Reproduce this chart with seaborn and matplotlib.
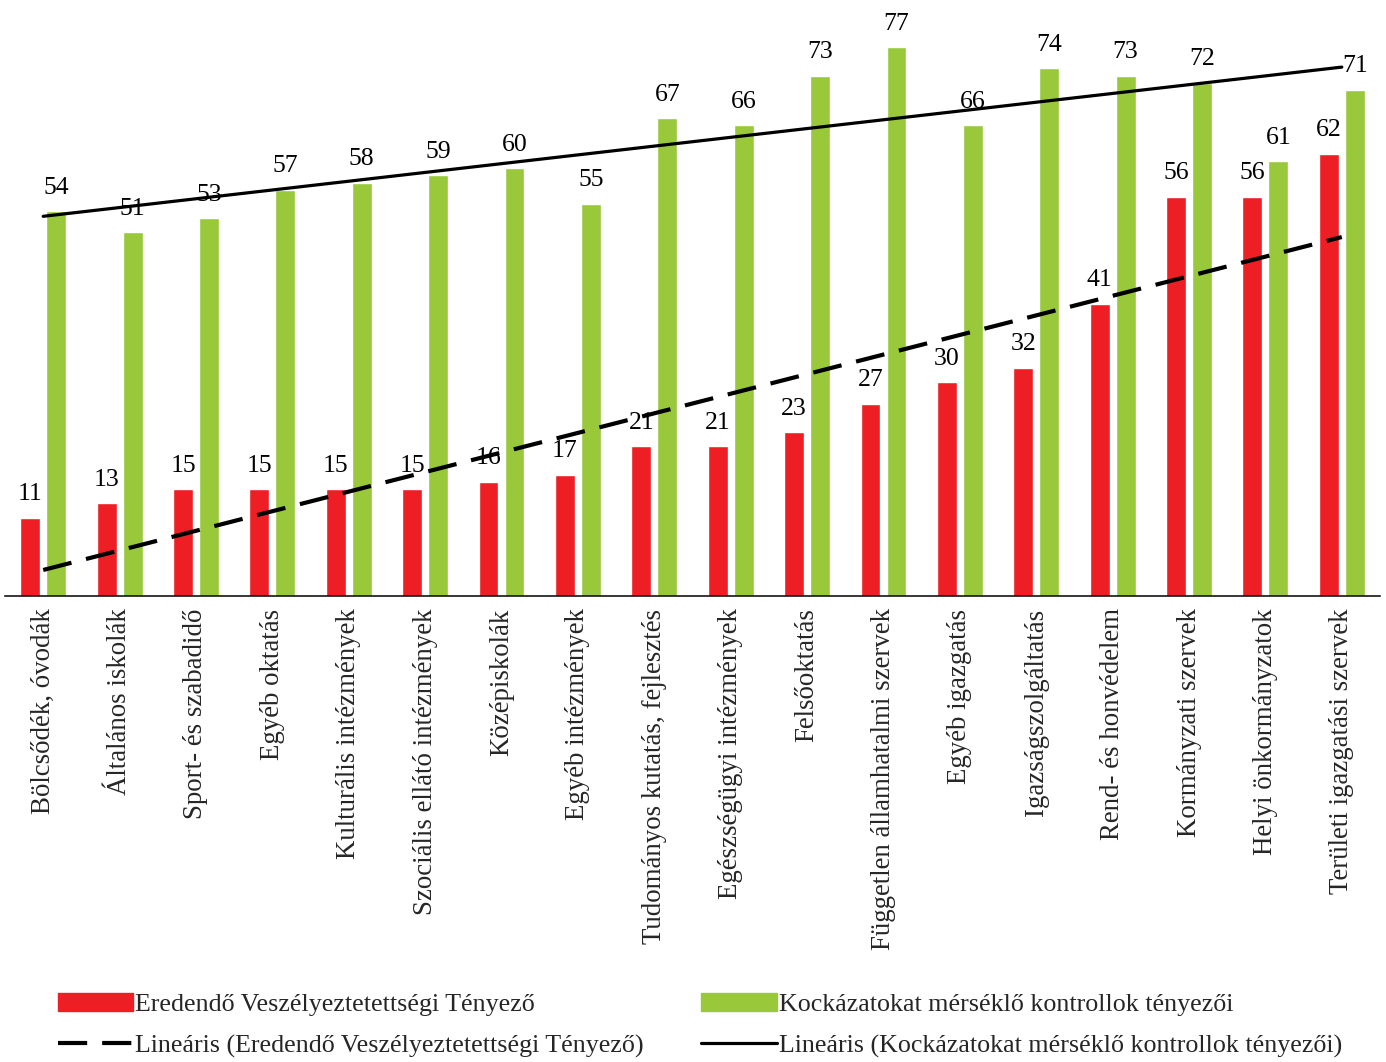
import matplotlib
matplotlib.use('Agg')
import matplotlib.pyplot as plt
import seaborn as sns
import pandas as pd
import numpy as np
from matplotlib.patches import Patch
from matplotlib.lines import Line2D

# Chart data
categories = [
    'Bölcsődék, óvodák', 'Általános iskolák', 'Sport- és szabadidő', 'Egyéb oktatás',
    'Kulturális intézmények', 'Szociális ellátó intézmények', 'Középiskolák',
    'Egyéb intézmények', 'Tudományos kutatás, fejlesztés', 'Egészségügyi intézmények',
    'Felsőoktatás', 'Független államhatalmi szervek', 'Egyéb igazgatás',
    'Igazságszolgáltatás', 'Rend- és honvédelem', 'Kormányzati szervek',
    'Helyi önkormányzatok', 'Területi igazgatási szervek',
]
red_vals = [11, 13, 15, 15, 15, 15, 16, 17, 21, 21, 23, 27, 30, 32, 41, 56, 56, 62]
green_vals = [54, 51, 53, 57, 58, 59, 60, 55, 67, 66, 73, 77, 66, 74, 73, 72, 61, 71]
red_name = 'Eredendő Veszélyeztetettségi Tényező'
green_name = 'Kockázatokat mérséklő kontrollok tényezői'

RED = '#ED1F24'
GREEN = '#99C93B'

df = pd.DataFrame({
    'kategoria': categories * 2,
    'ertek': red_vals + green_vals,
    'sorozat': [red_name] * len(categories) + [green_name] * len(categories),
})

sns.set_style('white')
plt.rcParams['font.family'] = ['Liberation Serif', 'DejaVu Serif']

fig = plt.figure(figsize=(13.86, 10.62), dpi=100)
ax = fig.add_axes([5 / 1386, 1 - 596 / 1062, 1375 / 1386, 596 / 1062])

sns.barplot(data=df, x='kategoria', y='ertek', hue='sorozat',
            palette=[RED, GREEN], width=0.68, gap=0.235, saturation=1,
            legend=False, ax=ax)

for cont in ax.containers:
    ax.bar_label(cont, fmt='%.0f', padding=9, fontsize=18.5, color='black')

# Linear trend lines
x = np.arange(len(categories))
red_fit = np.polyval(np.polyfit(x, red_vals, 1), x)
green_fit = np.polyval(np.polyfit(x, green_vals, 1), x)
ax.plot(x, red_fit, color='black', lw=3, dashes=(7, 3.6), zorder=5)
ax.plot(x, green_fit, color='black', lw=2.3, zorder=5)

ax.set_xlim(-0.5, len(categories) - 0.5)
ax.set_ylim(0, 83.6)
ax.set_xlabel('')
ax.set_ylabel('')
ax.set_yticks([])
ax.tick_params(axis='x', length=0, pad=9, labelsize=19.4, labelrotation=90)
for s in ['top', 'right', 'left']:
    ax.spines[s].set_visible(False)
ax.spines['bottom'].set_color('black')
ax.spines['bottom'].set_linewidth(1.1)

handles = [
    Patch(color=RED),
    Line2D([], [], color='black', lw=3, dashes=(7, 3.6)),
    Patch(color=GREEN),
    Line2D([], [], color='black', lw=2.3),
]
labels = [red_name, f'Lineáris ({red_name})', green_name, f'Lineáris ({green_name})']
fig.legend(handles, labels, loc='center', bbox_to_anchor=(0.505, 0.0345), ncol=2,
           frameon=False, fontsize=18.7, handlelength=2.9, handletextpad=0.08,
           columnspacing=2.2, labelspacing=0.68, handleheight=0.7)

fig.savefig('out.png', dpi=100)
